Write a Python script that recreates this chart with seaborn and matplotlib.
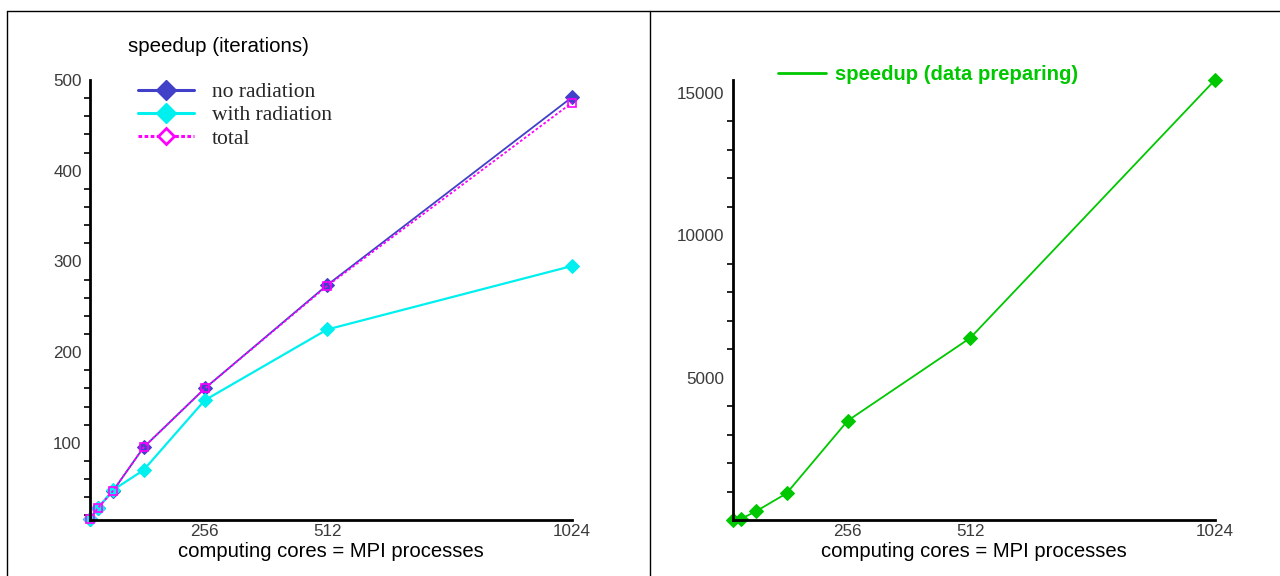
import matplotlib
matplotlib.use("Agg")
import matplotlib.pyplot as plt
from matplotlib.lines import Line2D
from matplotlib.ticker import MultipleLocator, FixedLocator
import seaborn as sns

# Number of computing cores (= MPI processes)
cores = [16, 32, 64, 128, 256, 512, 1024]

# Speedup of the iteration phase
no_radiation = [16, 28, 47, 95, 160, 274, 481]
with_radiation = [16, 28, 48, 70, 147, 225, 295]
total = [16, 28, 47, 95, 160, 273, 475]

# Speedup of the data preparation phase
data_preparing = [16, 50, 320, 950, 3500, 6400, 15450]

x_ticks = [256, 512, 768, 1024]
x_tick_labels = ["256", "512", "", "1024"]

sns.set_theme(style="white")
plt.rcParams["font.family"] = ["Liberation Sans", "DejaVu Sans"]

BLUE = "#4040c8"
CYAN = "#00f0f0"
MAGENTA = "#ff00ff"
GREEN = "#00c800"
TICK_COLOR = "#3a3a3a"

W, H = 1280, 576
fig = plt.figure(figsize=(W / 100, H / 100), dpi=100)


def px_axes(x0, x1, y_top, y_bottom):
    return fig.add_axes([x0 / W, 1 - y_bottom / H, (x1 - x0) / W, (y_bottom - y_top) / H])


def style_axes(ax):
    for side in ("top", "right"):
        ax.spines[side].set_visible(False)
    for side in ("left", "bottom"):
        ax.spines[side].set_linewidth(2.0)
        ax.spines[side].set_color("black")
    ax.set_xlim(16, 1024)
    ax.xaxis.set_major_locator(FixedLocator(x_ticks))
    ax.set_xticklabels(x_tick_labels)
    ax.tick_params(axis="x", which="major", direction="in", length=7, width=1.5,
                   colors="black", labelcolor=TICK_COLOR, labelsize=12.3, pad=3)
    ax.tick_params(axis="y", which="both", direction="out", length=4, width=1.2,
                   colors="black", labelcolor=TICK_COLOR, labelsize=12.3, pad=2)
    ax.tick_params(axis="y", which="minor", left=True)
    ax.tick_params(axis="x", which="minor", bottom=False)
    ax.set_xlabel("computing cores = MPI processes", fontsize=14.6, color="black", labelpad=2)
    ax.set_ylabel("")
    ax.grid(False)


# Left panel: iteration speedup
ax1 = px_axes(90, 572, 80, 520)
sns.lineplot(x=cores, y=no_radiation, ax=ax1, color=BLUE, lw=1.3, marker="D",
             markersize=7, markeredgecolor=BLUE, clip_on=False, legend=False)
sns.lineplot(x=cores, y=with_radiation, ax=ax1, color=CYAN, lw=1.6, marker="D",
             markersize=7, markeredgecolor=CYAN, clip_on=False, legend=False)
sns.lineplot(x=cores, y=total, ax=ax1, color=MAGENTA, lw=1.3, linestyle=(0, (1.5, 1.2)),
             marker="s", markersize=6, markerfacecolor="none", markeredgecolor=MAGENTA,
             markeredgewidth=1.2, clip_on=False, legend=False)
ax1.set_ylim(15, 500)
ax1.yaxis.set_major_locator(FixedLocator([100, 200, 300, 400, 500]))
ax1.yaxis.set_minor_locator(MultipleLocator(20))
style_axes(ax1)

handles = [
    Line2D([], [], color=BLUE, lw=2.2, marker="D", markersize=10, markeredgecolor=BLUE),
    Line2D([], [], color=CYAN, lw=2.2, marker="D", markersize=10, markeredgecolor=CYAN),
    Line2D([], [], color=MAGENTA, lw=2.2, linestyle=(0, (1.2, 0.8)), marker="D", markersize=8,
           markerfacecolor="white", markeredgecolor=MAGENTA, markeredgewidth=2),
]
leg1 = fig.legend(handles, ["no radiation", "with radiation", "total"],
                  loc="upper left", bbox_to_anchor=(138 / W, 1 - 82 / H),
                  frameon=False, borderpad=0, borderaxespad=0,
                  handlelength=2.6, handletextpad=0.82, labelspacing=0.15,
                  prop={"family": "Liberation Serif", "size": 15.5})

fig.text(128 / W, 1 - 47 / H, "speedup (iterations)", fontsize=14.8, color="black",
         ha="left", va="center")

# Right panel: data preparation speedup
ax2 = px_axes(733, 1215, 80, 520)
sns.lineplot(x=cores, y=data_preparing, ax=ax2, color=GREEN, lw=1.3, marker="D",
             markersize=7, markeredgecolor=GREEN, clip_on=False, legend=False,
             label="speedup (data preparing)")
ax2.set_ylim(16, 15450)
ax2.yaxis.set_major_locator(FixedLocator([5000, 10000, 15000]))
ax2.yaxis.set_minor_locator(MultipleLocator(1000))
style_axes(ax2)

leg2 = fig.legend([Line2D([], [], color=GREEN, lw=2)], ["speedup (data preparing)"],
                  loc="center left", bbox_to_anchor=(778 / W, 1 - 75 / H),
                  frameon=False, borderpad=0, borderaxespad=0,
                  handlelength=2.37, handletextpad=0.45,
                  prop={"family": "Liberation Sans", "size": 14.6, "weight": "bold"})
for t in leg2.get_texts():
    t.set_color(GREEN)

# Panel frame lines
frame_kw = dict(color="black", lw=1.0, transform=fig.transFigure, clip_on=False)
fig.add_artist(Line2D([7 / W, 1.0], [1 - 11 / H, 1 - 11 / H], **frame_kw))
fig.add_artist(Line2D([7 / W, 7 / W], [0, 1 - 11 / H], **frame_kw))
fig.add_artist(Line2D([650 / W, 650 / W], [0, 1 - 11 / H], **frame_kw))

fig.savefig("out.png", dpi=100)
